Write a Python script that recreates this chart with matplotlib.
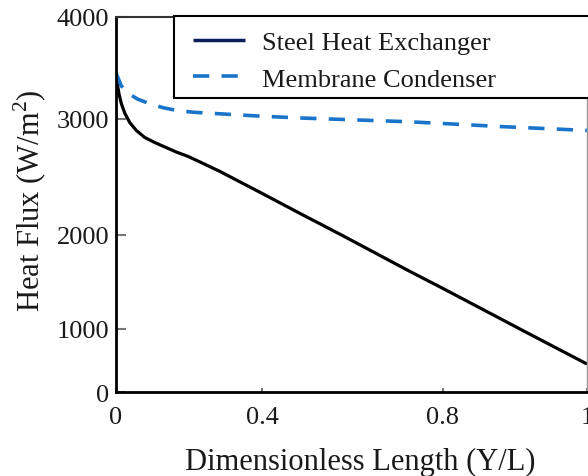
import numpy as np
import matplotlib.pyplot as plt
from matplotlib.lines import Line2D
from matplotlib.patches import Rectangle

plt.rcParams['font.family'] = ['Liberation Serif', 'DejaVu Serif']
plt.rcParams['mathtext.fontset'] = 'custom'
plt.rcParams['mathtext.rm'] = 'Liberation Serif'

# heat flux along the exchanger, W/m^2
steel_x = [0, 0.0036, 0.0082, 0.0145, 0.0238, 0.0375, 0.0556, 0.0786, 0.106,
           0.1334, 0.1644, 0.1973, 0.2301, 0.2849, 0.3397, 0.4, 0.484, 0.5768,
           0.7249, 0.8, 0.8792, 0.9069, 1.0]
steel_q = [3431, 3343, 3245, 3152, 3059, 2970, 2901, 2841, 2797,
           2759, 2716, 2677, 2629, 2547, 2457, 2358, 2185, 1996,
           1617, 1431, 1112, 1000, 444]

membrane_x = [0, 0.0145, 0.0375, 0.0603, 0.0967, 0.1288, 0.1699, 0.2164,
              0.2932, 0.4, 0.484, 0.7249, 0.8, 0.8792, 1.0]
membrane_q = [3451, 3324, 3242, 3193, 3144, 3111, 3081, 3065,
              3049, 3027, 3010, 2976, 2961, 2935, 2901]

x_ticks = [0, 0.4, 0.8, 1]
x_ticklabels = ['0', '0.4', '0.8', '1']
y_ticks = [0, 1000, 2000, 3000, 4000]
y_ticklabels = ['0', '1000', '2000', '3000', '4000']

blue = '#1a74c9'
ink = '#1a1a1a'


def piecewise_scale(vals, fracs):
    # piecewise-linear axis, extended linearly past both ends
    vals = np.asarray(vals, float)
    fracs = np.asarray(fracs, float)
    s0 = (fracs[1] - fracs[0]) / (vals[1] - vals[0])
    s1 = (fracs[-1] - fracs[-2]) / (vals[-1] - vals[-2])
    span = vals[-1] - vals[0]
    v = np.concatenate([[vals[0] - 10 * span], vals, [vals[-1] + 10 * span]])
    f = np.concatenate([[fracs[0] - 10 * span * s0], fracs,
                        [fracs[-1] + 10 * span * s1]])

    def forward(a):
        return np.interp(a, v, f)

    def inverse(a):
        return np.interp(a, f, v)

    return forward, inverse


fig = plt.figure(figsize=(5.88, 4.77), dpi=100)
ax = fig.add_axes([0.1973, 0.1761, 0.801, 0.7862])

ax.set_xscale('function', functions=piecewise_scale(x_ticks, [0, 0.31, 0.694, 1.0]))
ax.set_yscale('function', functions=piecewise_scale(y_ticks, [0, 0.168, 0.419, 0.728, 1.0]))

ax.plot(steel_x, steel_q, color='black', lw=2.3, solid_capstyle='butt',
        solid_joinstyle='round')
ax.plot(membrane_x, membrane_q, color=blue, lw=2.6, dashes=(4.5, 3.4))

ax.set_xlim(0, 1)
ax.set_ylim(0, 4000)
ax.set_xticks(x_ticks, x_ticklabels)
ax.set_yticks(y_ticks, y_ticklabels)
ax.minorticks_off()

ax.tick_params(axis='y', direction='in', length=7, width=1.5, color='#777777',
               pad=5, labelsize=19, labelcolor=ink)
ax.tick_params(axis='x', direction='in', length=3, width=1.5, color='#777777',
               pad=10, labelsize=19, labelcolor=ink)

ax.spines['left'].set_linewidth(2)
ax.spines['bottom'].set_linewidth(2)
ax.spines['top'].set_linewidth(1.5)
ax.spines['top'].set_color('#333333')
ax.spines['right'].set_linewidth(1)
ax.spines['right'].set_color('#999999')

ax.set_xlabel('Dimensionless Length (Y/L)', fontsize=22, color=ink)
ax.xaxis.label.set_va('center')
ax.xaxis.set_label_coords((360 - 116) / 471, (393 - 462) / 375)
ax.set_ylabel('Heat Flux (W/m$^2$)', fontsize=22, color=ink)
ax.yaxis.label.set_va('center')
ax.yaxis.set_label_coords((30 - 116) / 471, (393 - 201) / 375)

# legend box runs off the right edge of the figure
box = Rectangle((58 / 471, (393 - 99) / 375), 420 / 471, 82 / 375,
                transform=ax.transAxes, facecolor='white', edgecolor='black',
                lw=1.5, clip_on=False, zorder=4)
ax.add_patch(box)

handles = [Line2D([], [], color='#0c1f5a', lw=2.5, solid_capstyle='butt'),
           Line2D([], [], color=blue, lw=2.6, dashes=(4.5, 3.4))]
leg = ax.legend(handles, ['Steel Heat Exchanger', 'Membrane Condenser'],
                loc='center left', bbox_to_anchor=((193 - 116) / 471, (393 - 61.5) / 375),
                fontsize=19, handlelength=1.97, handletextpad=0.64, borderpad=0,
                labelspacing=0.51, borderaxespad=0, frameon=False, labelcolor=ink)
leg.set_zorder(6)

fig.savefig('out.png', dpi=100)
